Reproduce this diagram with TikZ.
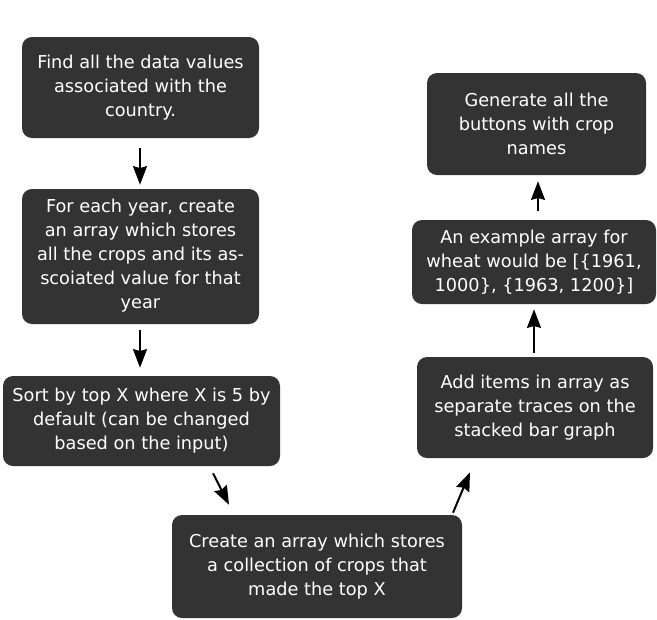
\documentclass[tikz,border=0pt]{standalone}
\usepackage{fontspec}
\setmainfont{DejaVu Sans}
\usetikzlibrary{arrows.meta,calc}
\definecolor{boxgray}{HTML}{333333}
\tikzset{
  flowbox/.style={fill=boxgray, draw=none, rounded corners=7.5pt, text=white,
    align=center, inner sep=0pt, font=\fontsize{13.3pt}{18pt}\selectfont},
  arr/.style={-{Stealth[length=14pt,width=10.5pt,inset=1.5pt]}, line width=1.5pt, black}
}
\begin{document}
\begin{tikzpicture}[x=0.75pt,y=-0.75pt]
\useasboundingbox (0,0) rectangle (657,619);
\node[flowbox, minimum width=237*0.75pt, minimum height=101*0.75pt] (A) at (140.5,87.5)
  {Find all the data values\\associated with the\\country.};
\node[flowbox, minimum width=237*0.75pt, minimum height=135*0.75pt] (B) at (140.5,256.5)
  {\\[-9pt]For each year, create\\an array which stores\\all the crops and its as-\\scoiated value for that\\year};
\node[flowbox, minimum width=277*0.75pt, minimum height=90*0.75pt] (C) at (141.5,421)
  {Sort by top X where X is 5 by\\default (can be changed\\based on the input)};
\node[flowbox, minimum width=290*0.75pt, minimum height=103*0.75pt] (D) at (317,566.5)
  {Create an array which stores\\a collection of crops that\\made the top X};
\node[flowbox, minimum width=236*0.75pt, minimum height=101*0.75pt] (E) at (535,407.5)
  {Add items in array as\\separate traces on the\\stacked bar graph};
\node[flowbox, minimum width=244*0.75pt, minimum height=84*0.75pt] (F) at (534,262)
  {An example array for\\wheat would be [\{1961,\\1000\}, \{1963, 1200\}]};
\node[flowbox, minimum width=219*0.75pt, minimum height=102*0.75pt] (G) at (536.5,124)
  {Generate all the\\buttons with crop\\names};
\draw[arr] ($(A.south)+(-0.5,10)$) -- ($(B.north)+(-0.5,-4)$);
\draw[arr] ($(B.south)+(-0.5,6)$) -- ($(C.north)+(-1.5,-8)$);
\draw[arr] ($(C.south)+(71.5,7)$) -- ($(D.north)+(-88,-10)$);
\draw[arr] ($(D.north)+(136,-2)$) -- ($(E.south)+(-65,14)$);
\draw[arr] ($(E.north)+(-1,-4)$) -- ($(F.south)+(0,5)$);
\draw[arr] ($(F.north)+(4,-9)$) -- ($(G.south)+(1.5,6)$);
\end{tikzpicture}
\end{document}
